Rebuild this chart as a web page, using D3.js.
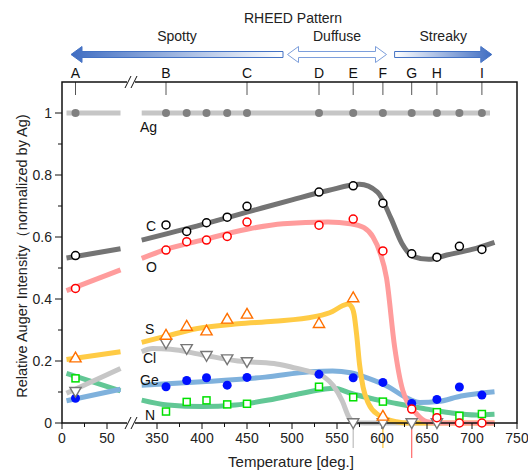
<!DOCTYPE html>
<html>
<head>
<meta charset="utf-8">
<script src="https://cdn.jsdelivr.net/npm/d3@7"></script>
<style>
  body { margin: 0; background: #fff; }
  svg { display: block; font-family: "Liberation Sans", Arial, sans-serif; }
</style>
</head>
<body>
<svg id="chart" width="528" height="471"></svg>
<script>
// measured temperatures (deg.) and normalized Auger intensities
const temps  = [15, 360, 383, 405, 428, 450, 530, 568, 601, 633, 661, 686, 711];
const agVals = [1, 1, 1, 1, 1, 1, 1, 1, 1, 1, 1, 1, 1];
const cVals  = [0.540, 0.639, 0.618, 0.646, 0.664, 0.699, 0.745, 0.765, 0.709, 0.546, 0.535, 0.570, 0.560];
const oVals  = [0.434, 0.558, 0.585, 0.590, 0.602, 0.648, 0.638, 0.658, 0.555, 0.045, 0.017, 0, 0];
const sVals  = [0.211, 0.284, 0.313, 0.298, 0.336, 0.352, 0.322, 0.405, 0.023, null, null, null, null];
const clVals = [0.101, 0.257, 0.239, 0.217, 0.206, 0.197, null, 0, 0, 0, 0, null, null];
const geVals = [0.080, 0.117, 0.137, 0.146, 0.122, 0.147, 0.157, 0.146, 0.131, 0.063, 0.076, 0.116, 0.090];
const nVals  = [0.144, 0.037, 0.068, 0.073, 0.060, 0.062, 0.117, 0.083, 0.069, null, 0.035, 0.023, 0.029];

// guide-to-the-eye curves, [temperature, intensity]
const agFitL = [[5, 1], [65, 1]];
const agFitR = [[333, 1], [720, 1]];
const cFitL  = [[5, 0.532], [65, 0.562]];
const cFitR  = [[333, 0.59], [400, 0.64], [450, 0.68], [500, 0.72], [540, 0.75], [575, 0.77], [595, 0.745],
                [610, 0.66], [622, 0.58], [635, 0.537], [652, 0.528], [672, 0.542], [700, 0.56], [725, 0.583]];
const oFitL  = [[5, 0.427], [65, 0.494]];
const oFitR  = [[333, 0.531], [360, 0.56], [400, 0.59], [450, 0.625], [490, 0.643], [540, 0.648], [565, 0.643],
                [580, 0.63], [590, 0.6], [598, 0.548], [605, 0.468], [614, 0.246], [623, 0.106], [638, 0.031],
                [650, 0.004], [665, 0], [725, 0]];
const sFitL  = [[5, 0.205], [65, 0.23]];
const sFitR  = [[333, 0.26], [360, 0.28], [395, 0.305], [440, 0.32], [480, 0.328], [525, 0.343], [545, 0.36],
                [556, 0.378], [562, 0.384], [566, 0.376], [569, 0.35], [572, 0.28], [575, 0.19], [579, 0.115],
                [585, 0.063], [596, 0.026], [616, 0.004], [630, 0], [725, 0]];
const clFitL = [[5, 0.096], [65, 0.176]];
const clFitR = [[333, 0.23], [345, 0.24], [365, 0.238], [400, 0.22], [440, 0.2], [480, 0.192], [500, 0.18],
                [520, 0.166], [535, 0.15], [546, 0.12], [556, 0.07], [563, 0.02], [570, 0.002], [580, 0], [665, 0]];
const geFitL = [[5, 0.072], [65, 0.109]];
const geFitR = [[333, 0.122], [400, 0.133], [470, 0.148], [520, 0.165], [545, 0.168], [565, 0.162], [585, 0.144],
                [607, 0.117], [625, 0.085], [642, 0.066], [662, 0.069], [688, 0.087], [725, 0.101]];
const nFitL  = [[5, 0.16], [65, 0.104]];
const nFitR  = [[333, 0.074], [362, 0.058], [400, 0.053], [437, 0.058], [474, 0.074], [511, 0.096], [535, 0.109],
                [547, 0.112], [565, 0.096], [587, 0.08], [616, 0.063], [646, 0.047], [676, 0.033], [705, 0.026], [725, 0.028]];

const stageLetters = ['A', 'B', 'C', 'D', 'E', 'F', 'G', 'H', 'I'];
const stageTemps   = [15, 360, 450, 530, 568, 601, 633, 661, 711];
const ticksL = [0, 50];
const ticksR = [350, 400, 450, 500, 550, 600, 650, 700, 750];
const minorL = [25];
const minorR = [375, 425, 475, 525, 575, 625, 675, 725];
const yTicks = [0, 0.2, 0.4, 0.6, 0.8, 1];
const yMinor = [0.1, 0.3, 0.5, 0.7, 0.9];
const dropTemps = [568, 601, 633];

const svg = d3.select('#chart');
const pL = 62, pR = 517, pT = 82, pB = 423, brk = 131;

const xL = d3.scaleLinear().domain([0, 70]).range([pL, 125]);
const xR = d3.scaleLinear().domain([330, 750]).range([139, pR]);
const xAt = t => t < 200 ? xL(t) : xR(t);
const y = d3.scaleLinear().domain([0, 1.1]).range([pB, pT]);

// gradients for the arrows
const defs = svg.append('defs');
const g1 = defs.append('linearGradient').attr('id', 'toLeft');
g1.append('stop').attr('offset', '0%').attr('stop-color', '#3f6dc2');
g1.append('stop').attr('offset', '100%').attr('stop-color', '#ffffff');
const g2 = defs.append('linearGradient').attr('id', 'toRight');
g2.append('stop').attr('offset', '0%').attr('stop-color', '#ffffff');
g2.append('stop').attr('offset', '100%').attr('stop-color', '#3f6dc2');

// RHEED annotation
const ay = 54.5, bh = 3, hh = 8, hl = 11;
svg.append('text').attr('x', 293).attr('y', 23).attr('text-anchor', 'middle')
  .attr('font-size', 14).attr('fill', '#222').text('RHEED Pattern');

const a1 = xL(10), a2 = xR(490);
svg.append('path')
  .attr('d', `M${a1},${ay} L${a1 + hl},${ay - hh} L${a1 + hl},${ay - bh} L${a2},${ay - bh} L${a2},${ay + bh}
              L${a1 + hl},${ay + bh} L${a1 + hl},${ay + hh} Z`)
  .attr('fill', 'url(#toLeft)').attr('stroke', '#4472c4').attr('stroke-width', 1);

const d1 = xR(495), d2 = xR(605);
svg.append('path')
  .attr('d', `M${d1},${ay} L${d1 + hl},${ay - hh} L${d1 + hl},${ay - bh} L${d2 - hl},${ay - bh} L${d2 - hl},${ay - hh}
              L${d2},${ay} L${d2 - hl},${ay + hh} L${d2 - hl},${ay + bh} L${d1 + hl},${ay + bh} L${d1 + hl},${ay + hh} Z`)
  .attr('fill', '#fff').attr('stroke', '#7c9edb').attr('stroke-width', 1);

const s1 = xR(614), s2 = xR(722);
svg.append('path')
  .attr('d', `M${s1},${ay - bh} L${s2 - hl},${ay - bh} L${s2 - hl},${ay - hh} L${s2},${ay} L${s2 - hl},${ay + hh}
              L${s2 - hl},${ay + bh} L${s1},${ay + bh} Z`)
  .attr('fill', 'url(#toRight)').attr('stroke', '#4472c4').attr('stroke-width', 1);

[['Spotty', (a1 + a2) / 2], ['Duffuse', (d1 + d2) / 2], ['Streaky', (s1 + s2) / 2]].forEach(([t, cx]) => {
  svg.append('text').attr('x', cx).attr('y', 41).attr('text-anchor', 'middle')
    .attr('font-size', 14).attr('fill', '#222').text(t);
});

// stage letters on top
stageTemps.forEach((t, i) => {
  svg.append('line').attr('x1', xAt(t)).attr('x2', xAt(t)).attr('y1', pT).attr('y2', pT + 13)
    .attr('stroke', '#555').attr('stroke-width', 1);
  svg.append('text').attr('x', xAt(t)).attr('y', 78).attr('text-anchor', 'middle')
    .attr('font-size', 14).attr('fill', '#111').text(stageLetters[i]);
});

// drop lines below the axis
const dropColors = ['#bdbdbd', '#ffc533', '#ff6a6a'];
const dropEnds = [448, 448, 458];
dropTemps.forEach((t, i) => {
  svg.append('line').attr('x1', xR(t)).attr('x2', xR(t)).attr('y1', pB).attr('y2', dropEnds[i])
    .attr('stroke', dropColors[i]).attr('stroke-width', 1.2);
});

// fitted curves
const line = d3.line().x(d => xAt(d[0])).y(d => y(d[1])).curve(d3.curveMonotoneX);
const fits = [
  [agFitL, agFitR, '#c6c6c6'],
  [nFitL, nFitR, '#62c795'],
  [geFitL, geFitR, '#7fb1dc'],
  [clFitL, clFitR, '#c6c6c6'],
  [sFitL, sFitR, '#ffcb45'],
  [oFitL, oFitR, '#ff9c9c'],
  [cFitL, cFitR, '#747474']
];
fits.forEach(([fl, fr, col]) => {
  [fl, fr].forEach(f => {
    svg.append('path').datum(f).attr('d', line).attr('fill', 'none')
      .attr('stroke', col).attr('stroke-width', 5).attr('stroke-linecap', 'butt');
  });
});

// axes frame
svg.append('rect').attr('x', pL).attr('y', pT).attr('width', pR - pL).attr('height', pB - pT)
  .attr('fill', 'none').attr('stroke', '#111').attr('stroke-width', 1.5);

// x ticks
const xt = svg.append('g').attr('font-size', 14).attr('fill', '#222');
ticksL.forEach(t => {
  xt.append('line').attr('x1', xL(t)).attr('x2', xL(t)).attr('y1', pB).attr('y2', pB + 6).attr('stroke', '#111');
  xt.append('text').attr('x', xL(t)).attr('y', 443).attr('text-anchor', 'middle').text(t);
});
ticksR.forEach(t => {
  xt.append('line').attr('x1', xR(t)).attr('x2', xR(t)).attr('y1', pB).attr('y2', pB + 6).attr('stroke', '#111');
  xt.append('text').attr('x', xR(t)).attr('y', 443).attr('text-anchor', 'middle').text(t);
});
minorL.map(xL).concat(minorR.map(xR)).forEach(px => {
  xt.append('line').attr('x1', px).attr('x2', px).attr('y1', pB).attr('y2', pB + 4).attr('stroke', '#111');
});

// y ticks
yTicks.forEach(v => {
  xt.append('line').attr('x1', pL - 7).attr('x2', pL).attr('y1', y(v)).attr('y2', y(v)).attr('stroke', '#111');
  xt.append('text').attr('x', 52).attr('y', y(v) + 5).attr('text-anchor', 'end').text(v);
});
yMinor.forEach(v => {
  xt.append('line').attr('x1', pL - 4).attr('x2', pL).attr('y1', y(v)).attr('y2', y(v)).attr('stroke', '#111');
});

// axis break marks
[pB, pT].forEach(yy => {
  svg.append('rect').attr('x', brk - 4).attr('y', yy - 2).attr('width', 8).attr('height', 4).attr('fill', '#fff');
  [-3, 3].forEach(dx => {
    svg.append('line').attr('x1', brk + dx - 3).attr('y1', yy + 6).attr('x2', brk + dx + 3).attr('y2', yy - 6)
      .attr('stroke', '#111').attr('stroke-width', 1);
  });
});

// markers
const pts = vals => temps.map((t, i) => [t, vals[i]]).filter(d => d[1] !== null);
const mk = svg.append('g');
mk.selectAll('.ag').data(pts(agVals)).enter().append('circle')
  .attr('cx', d => xAt(d[0])).attr('cy', d => y(d[1])).attr('r', 4).attr('fill', '#808080');
mk.selectAll('.n').data(pts(nVals)).enter().append('rect')
  .attr('x', d => xAt(d[0]) - 3.5).attr('y', d => y(d[1]) - 3.5).attr('width', 7).attr('height', 7)
  .attr('fill', '#fff').attr('stroke', '#00e000').attr('stroke-width', 1.5);
mk.selectAll('.ge').data(pts(geVals)).enter().append('circle')
  .attr('cx', d => xAt(d[0])).attr('cy', d => y(d[1])).attr('r', 4.5).attr('fill', '#0010ff');
const tri = d3.symbol().type(d3.symbolTriangle).size(55);
mk.selectAll('.cl').data(pts(clVals)).enter().append('path').attr('d', tri)
  .attr('transform', d => `translate(${xAt(d[0])},${y(d[1]) - 1}) rotate(180)`)
  .attr('fill', '#fff').attr('stroke', '#777').attr('stroke-width', 1.4);
mk.selectAll('.s').data(pts(sVals)).enter().append('path').attr('d', tri)
  .attr('transform', d => `translate(${xAt(d[0])},${y(d[1]) + 1})`)
  .attr('fill', '#fff').attr('stroke', '#ff7000').attr('stroke-width', 1.4);
mk.selectAll('.o').data(pts(oVals)).enter().append('circle')
  .attr('cx', d => xAt(d[0])).attr('cy', d => y(d[1])).attr('r', 4)
  .attr('fill', '#fff').attr('stroke', '#ff0000').attr('stroke-width', 1.5);
mk.selectAll('.c').data(pts(cVals)).enter().append('circle')
  .attr('cx', d => xAt(d[0])).attr('cy', d => y(d[1])).attr('r', 4)
  .attr('fill', '#fff').attr('stroke', '#000').attr('stroke-width', 1.5);

// series labels
[['Ag', 140, 132], ['C', 146, 231], ['O', 146, 272], ['S', 145, 334],
 ['Cl', 143, 363], ['Ge', 140, 385], ['N', 145, 420]].forEach(([t, x0, y0]) => {
  svg.append('text').attr('x', x0).attr('y', y0).attr('font-size', 14).attr('fill', '#111').text(t);
});

// axis titles
svg.append('text').attr('x', 291).attr('y', 467).attr('text-anchor', 'middle')
  .attr('font-size', 15).attr('fill', '#222').text('Temperature [deg.]');
svg.append('text').attr('transform', 'translate(27,256) rotate(-90)').attr('text-anchor', 'middle')
  .attr('font-size', 14.5).attr('fill', '#222').text('Relative Auger Intensity（normalized by Ag)');
</script>
</body>
</html>
